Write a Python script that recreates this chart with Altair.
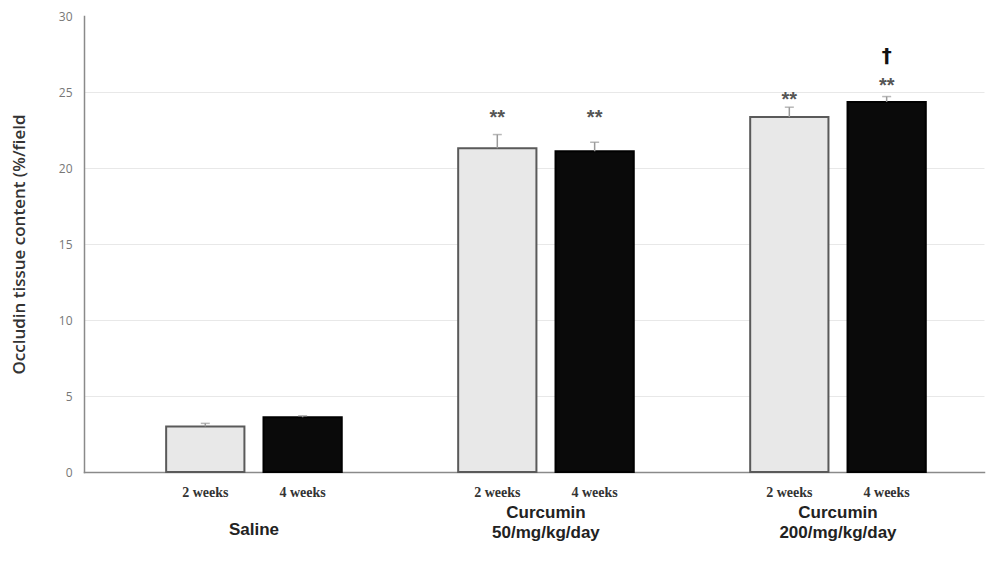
import altair as alt
import pandas as pd

groups = ["Saline", "Curcumin\n50/mg/kg/day", "Curcumin\n200/mg/kg/day"]
weeks = ["2 weeks", "4 weeks"]
means = [3.0, 3.6, 21.3, 21.1, 23.35, 24.35]
upper = [3.2, 3.7, 22.2, 21.7, 24.0, 24.7]
stars = ["", "", "**", "**", "**", "**"]
star_pos = [None, None, 23.3, 23.3, 24.5, 25.4]
dagger = ["", "", "", "", "", "†"]
dagger_pos = [None, None, None, None, None, 27.4]

rows = []
i = 0
for g in groups:
    for w in weeks:
        rows.append(dict(group=g, week=w, mean=means[i], upper=upper[i],
                         star=stars[i], star_pos=star_pos[i],
                         dagger=dagger[i], dagger_pos=dagger_pos[i]))
        i += 1
df = pd.DataFrame(rows)
gdf = pd.DataFrame({"group": groups})

W, H = 900, 456

x = alt.X("group:N", sort=groups, title=None,
          scale=alt.Scale(paddingInner=0, paddingOuter=0.041, align=1),
          axis=alt.Axis(labels=False, ticks=False, domainColor="#8a8a8a", domainWidth=1.5))
xo = alt.XOffset("week:N", sort=weeks,
                 scale=alt.Scale(paddingInner=0.196, paddingOuter=0.598))
yscale = alt.Scale(domain=[0, 30], nice=False)

base = alt.Chart(df)

bars = base.mark_bar(strokeWidth=2).encode(
    x=x, xOffset=xo,
    y=alt.Y("mean:Q", scale=yscale,
            title="Occludin tissue content  (%/field",
            axis=alt.Axis(values=[0, 5, 10, 15, 20, 25, 30], ticks=False,
                          domainColor="#8a8a8a", domainWidth=1.5,
                          gridColor="#e8e8e8",
                          gridOpacity={"condition": {"test": "datum.value == 30", "value": 0}, "value": 1},
                          labelColor="#777", labelFontSize=12, labelFont="Open Sans",
                          labelPadding=12,
                          titleFont="Open Sans", titleFontSize=17, titleFontWeight=600,
                          titleColor="#333", titlePadding=30)),
    color=alt.Color("week:N", sort=weeks, legend=None,
                    scale=alt.Scale(domain=weeks, range=["#e8e8e8", "#0a0a0a"])),
    stroke=alt.Stroke("week:N", sort=weeks, legend=None,
                      scale=alt.Scale(domain=weeks, range=["#5a5a5a", "#000000"])),
)

err = base.mark_rule(color="#9a9a9a", strokeWidth=1.5).encode(
    x=x, xOffset=xo, y=alt.Y("mean:Q", scale=yscale), y2="upper:Q")
cap = base.mark_tick(color="#9a9a9a", thickness=1.5, size=9).encode(
    x=x, xOffset=xo, y=alt.Y("upper:Q", scale=yscale))

star_txt = base.mark_text(fontSize=20, fontWeight="bold", color="#555",
                          font="Liberation Sans", baseline="middle").encode(
    x=x, xOffset=xo, y=alt.Y("star_pos:Q", scale=yscale), text="star:N")
dag_txt = base.mark_text(fontSize=20, fontWeight="bold", color="#111",
                         font="DejaVu Sans", baseline="middle").encode(
    x=x, xOffset=xo, y=alt.Y("dagger_pos:Q", scale=yscale), text="dagger:N")

week_txt = base.mark_text(fontSize=14, fontWeight="bold", color="#333",
                          font="Liberation Serif", baseline="middle").encode(
    x=x, xOffset=xo, y=alt.value(H + 21), text="week:N")

grp_style = dict(fontSize=17, fontWeight="bold", color="#222",
                 font="Liberation Sans", baseline="middle",
                 lineBreak="\n", lineHeight=20)
grp_single = alt.Chart(gdf).mark_text(**grp_style).encode(
    x=x, y=alt.value(H + 58), text="group:N"
).transform_filter("indexof(datum.group, '\\n') < 0")
grp_multi = alt.Chart(gdf).mark_text(**grp_style).encode(
    x=x, y=alt.value(H + 41), text="group:N"
).transform_filter("indexof(datum.group, '\\n') >= 0")

chart = alt.layer(bars, err, cap, star_txt, dag_txt, week_txt, grp_single, grp_multi).properties(
    width=W, height=H,
    autosize=alt.AutoSizeParams(type="none"),
    padding={"left": 76, "top": 8, "right": 3, "bottom": 82},
).configure_view(stroke=None).configure_axis(domainCap="square")

chart.save("out.html", embed_options={"renderer": "svg", "actions": False})
